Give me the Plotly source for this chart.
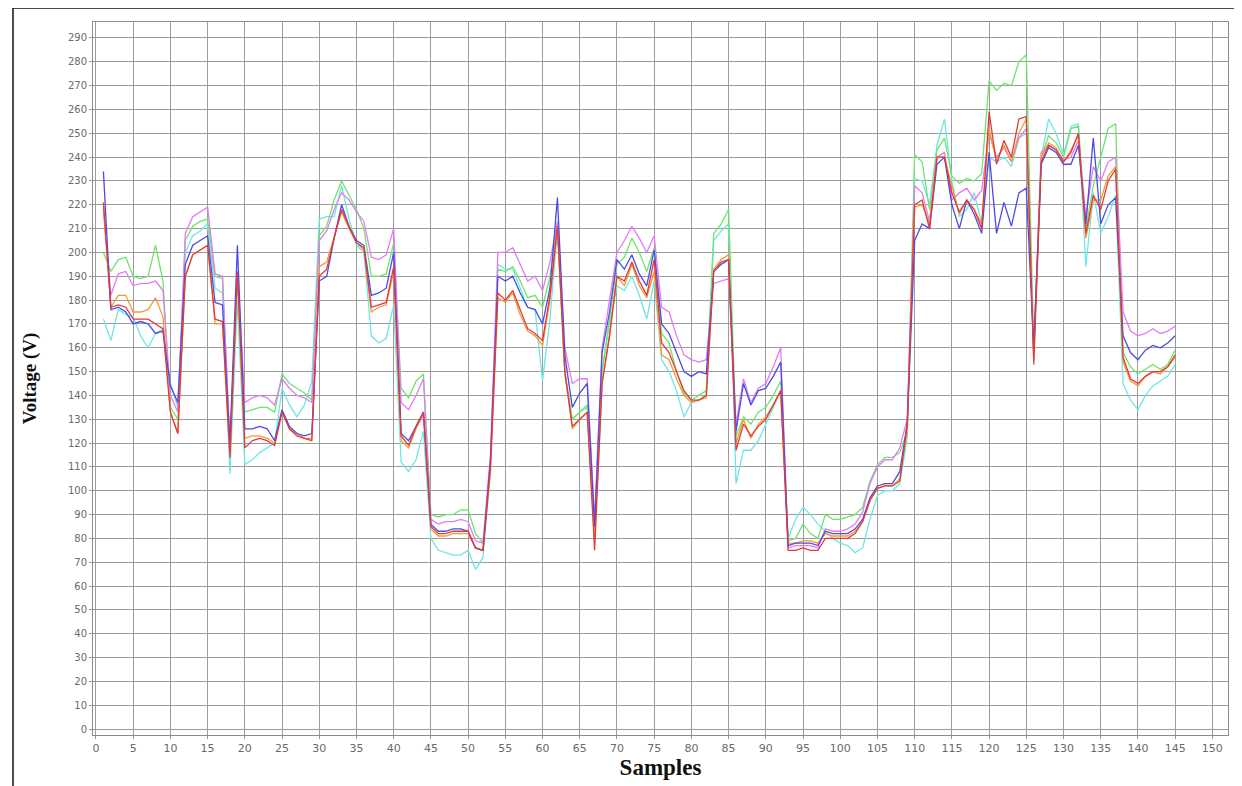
import plotly.graph_objects as go

samples = list(range(1, 146))

blue = [234,176,177,175,170,171,170,166,167,144,
        137,195,203,205,207,179,178,120,203,126,
        126,127,126,121,134,127,124,123,124,188,
        190,206,220,211,205,203,182,183,185,200,
        124,121,127,133,86,83,83,84,84,83,
        76,75,113,190,188,190,183,177,176,170,
        185,223,157,135,141,145,85,158,175,197,
        193,199,191,186,201,170,166,158,150,148,
        150,149,192,195,197,125,145,136,142,143,
        148,154,77,78,78,78,77,83,82,82,
        82,84,88,97,102,103,103,108,128,205,
        212,210,237,240,220,210,222,216,208,242,
        208,221,211,225,227,160,237,244,242,237,
        237,245,212,248,212,220,223,165,158,155,
        159,161,160,162,165]

red = [221,177,178,177,172,172,172,170,168,133,
       124,190,199,201,203,172,171,114,192,118,
       121,122,121,119,133,126,123,122,121,190,
       193,206,218,211,204,202,177,178,179,194,
       123,119,127,133,85,82,82,83,83,83,
       76,75,110,183,180,184,176,168,166,163,
       182,211,150,127,130,133,75,145,165,190,
       188,196,188,182,197,162,158,150,142,138,
       138,140,192,196,197,117,128,123,127,130,
       136,142,75,75,76,75,75,80,80,80,
       80,82,87,96,101,102,102,104,128,220,
       222,210,240,240,225,217,222,218,210,259,
       237,247,240,256,257,153,238,245,243,238,
       242,250,208,224,218,230,235,156,147,145,
       148,150,150,152,157]

orange = [219,177,182,182,175,175,176,181,173,133,
          124,190,199,201,203,170,170,116,190,122,
          123,123,122,120,133,126,124,122,122,194,
          196,207,217,210,204,201,175,177,178,192,
          121,118,126,132,84,81,81,82,82,82,
          76,75,108,181,179,183,174,167,165,161,
          180,210,150,126,130,133,80,145,165,190,
          186,195,186,181,192,157,155,147,140,137,
          138,139,193,197,199,120,130,122,128,131,
          136,142,78,78,79,79,78,82,81,81,
          81,83,87,96,101,102,102,105,125,219,
          220,212,240,240,228,216,222,218,212,252,
          238,245,238,250,256,155,240,246,244,238,
          243,249,206,222,222,232,236,154,146,144,
          148,150,149,152,156]

green = [200,192,197,198,190,189,190,203,188,135,
         130,205,211,213,214,190,189,118,190,133,
         134,135,135,133,149,145,143,141,138,207,
         211,222,230,224,218,210,190,190,191,204,
         143,139,146,149,90,89,90,90,92,92,
         82,78,112,193,192,194,188,181,182,177,
         190,212,150,130,133,136,85,150,172,195,
         198,206,200,192,202,166,162,150,141,138,
         140,142,208,212,218,123,131,128,133,135,
         140,146,79,80,86,82,80,90,88,88,
         89,90,93,104,111,114,114,116,125,241,
         238,218,243,248,232,229,231,230,233,272,
         268,271,270,280,283,160,240,249,246,240,
         252,253,210,228,240,252,254,158,152,149,
         151,153,151,153,159]

magenta = [218,182,191,192,186,187,187,188,184,140,
           133,208,215,217,219,191,190,120,192,137,
           139,140,139,136,147,143,140,139,137,205,
           209,218,225,222,217,213,198,197,199,210,
           137,134,140,147,88,86,87,87,88,87,
           79,78,115,200,200,202,195,188,190,184,
           196,213,160,145,147,147,88,160,180,200,
           205,211,206,200,207,177,175,165,157,155,
           154,155,187,188,189,128,147,137,143,145,
           152,160,76,77,77,77,76,84,83,83,
           84,86,91,103,110,113,113,118,130,228,
           225,213,240,242,222,225,227,222,226,250,
           240,244,238,248,252,158,242,245,243,239,
           240,247,215,236,230,238,240,175,167,165,
           166,168,166,167,169]

cyan = [172,163,176,174,173,165,160,166,168,145,
        135,200,207,209,212,185,183,107,180,111,
        113,116,118,120,143,136,131,136,146,214,
        215,215,228,214,203,200,165,162,164,178,
        112,108,113,125,80,75,74,73,73,75,
        67,72,108,195,193,193,185,177,176,146,
        172,210,148,130,133,135,83,150,170,186,
        184,190,182,172,188,155,150,142,131,137,
        138,140,205,209,212,103,117,117,121,128,
        135,142,80,88,93,90,86,83,80,78,
        77,74,76,88,98,100,100,103,122,231,
        230,220,245,256,230,215,218,225,212,240,
        238,240,236,248,250,160,240,256,250,241,
        253,254,194,225,208,215,224,145,138,134,
        140,144,146,148,153]

series = [
    ("cyan", cyan, "#6fe6e6"),
    ("green", green, "#6ee46e"),
    ("magenta", magenta, "#e27cf2"),
    ("orange", orange, "#f29a3a"),
    ("blue", blue, "#4b4be8"),
    ("red", red, "#e23a3a"),
]

fig = go.Figure()
for name, vals, col in series:
    fig.add_trace(go.Scatter(x=samples, y=vals, mode="lines", name=name,
                             line=dict(color=col, width=1.3), showlegend=False))

x_ticks = list(range(0, 151, 5))
y_ticks = list(range(0, 291, 10))

fig.update_layout(
    width=1234, height=778,
    paper_bgcolor="white", plot_bgcolor="white",
    margin=dict(l=85, r=14, t=14, b=51),
    showlegend=False,
)
fig.update_xaxes(
    range=[-0.4, 152.1], tickvals=x_ticks, ticktext=[str(v) for v in x_ticks],
    showgrid=True, gridcolor="#9c9c9c", gridwidth=1,
    showline=True, linecolor="#8c8c8c", linewidth=1, mirror=True,
    ticks="outside", ticklen=3, tickcolor="#999",
    tickfont=dict(family="DejaVu Sans", size=11, color="#6a6a6a"),
    zeroline=False,
    title=dict(text="<b>Samples</b>", standoff=4,
               font=dict(family="Liberation Serif", size=23, color="#111")),
)
fig.update_yaxes(
    range=[-2.5, 296.7], tickvals=y_ticks, ticktext=[str(v) for v in y_ticks],
    showgrid=True, gridcolor="#9c9c9c", gridwidth=1,
    showline=True, linecolor="#8c8c8c", linewidth=1, mirror=True,
    ticks="outside", ticklen=3, tickcolor="#999",
    tickfont=dict(family="DejaVu Sans", size=10, color="#6a6a6a"),
    zeroline=False,
    title=dict(text="<b>Voltage (V)</b>", standoff=26,
               font=dict(family="Liberation Serif", size=19, color="#111")),
)

# outer image frame
fig.add_shape(type="line", xref="paper", yref="paper",
              x0=-0.0705, x1=-0.0705, y0=1.0196, y1=-0.09,
              line=dict(color="#111", width=1.5))
fig.add_shape(type="line", xref="paper", yref="paper",
              x0=-0.0705, x1=1.0070, y0=1.0196, y1=1.0196,
              line=dict(color="#111", width=1.5))
fig.add_shape(type="line", xref="paper", yref="paper",
              x0=1.0070, x1=1.0070, y0=1.0196, y1=-0.09,
              line=dict(color="#111", width=1.5))

fig.write_html("out.html")
